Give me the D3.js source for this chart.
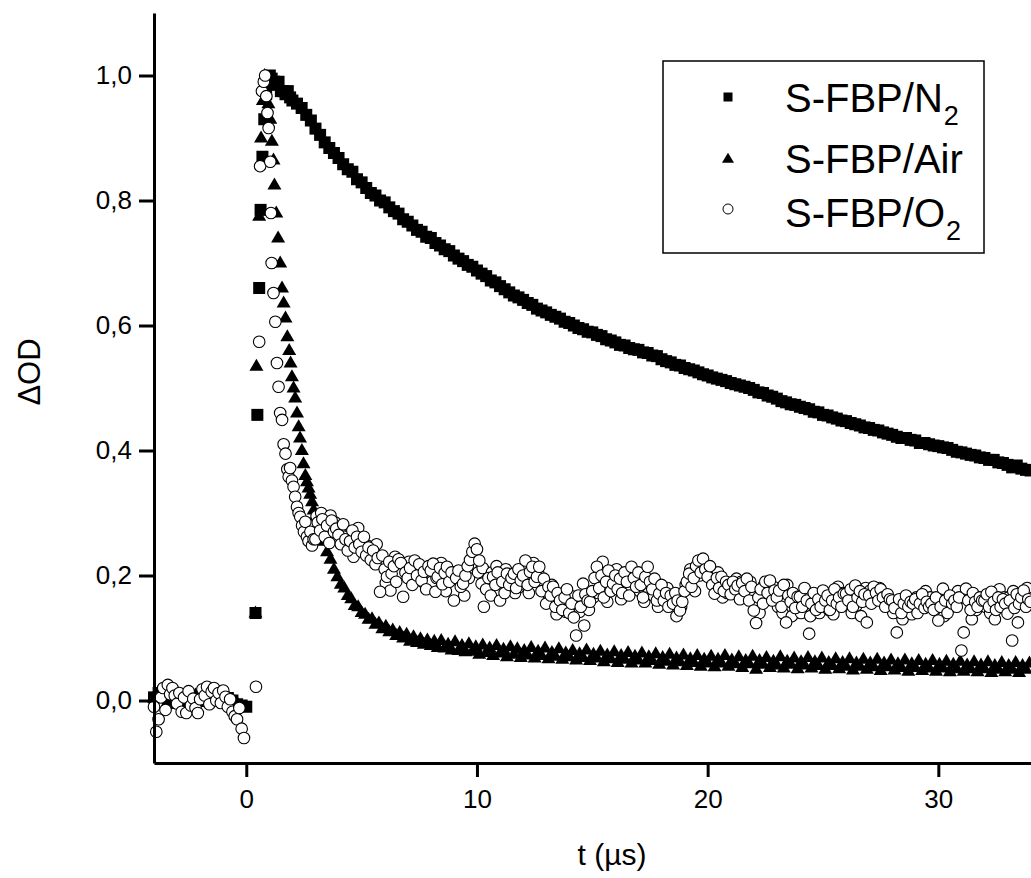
<!DOCTYPE html>
<html><head><meta charset="utf-8">
<script src="https://cdn.jsdelivr.net/npm/d3@7"></script>
<style>body{margin:0;background:#fff} svg{display:block}</style>
</head><body>
<svg id="chart" width="1031" height="878"></svg>
<script>
// ---- Data (t in µs, ΔOD) ----
const xTicks = [0, 10, 20, 30];
const yTicks = [0, 0.2, 0.4, 0.6, 0.8, 1.0];
const seriesNames = ["S-FBP/N", "S-FBP/Air", "S-FBP/O"];
const seriesSubs = ["2", "", "2"];

// S-FBP/N2
const n2PreStart = -4.0, n2PreStep = 0.2;
const n2Pre = [0.005,0.012,0.008,0.0,-0.004,0.006,0.01,0.003,-0.002,0.008,0.004,0.0,0.006,0.01,0.002,-0.003,0.004,0.0,-0.006,-0.008];
const n2Early = [[0.0,-0.01],[0.40,0.14],[0.48,0.457],[0.56,0.66],[0.62,0.785],[0.70,0.87],[0.78,0.93],[0.86,0.97],[0.94,0.99],[1.02,1.0],[1.10,0.995],[1.2,0.99],[1.3,0.985],[1.4,0.99],[1.5,0.975],[1.6,0.975],[1.7,0.97],[1.8,0.975],[1.9,0.965],[2.0,0.96]];
const n2TailStart = 2.2, n2TailStep = 0.2;
const n2Tail = [
.955,.948,.937,.928,.915,.905,.893,.884,.876,.868,.858,.850,.846,.834,.829,.820,.812,.808,.800,.797,
.789,.783,.779,.770,.766,.760,.753,.750,.742,.740,.732,.728,.722,.719,.712,.707,.703,.697,.694,.688,
.683,.679,.672,.669,.663,.658,.653,.648,.645,.641,.636,.633,.627,.624,.621,.617,.614,.611,.606,.604,
.600,.596,.594,.590,.589,.585,.583,.578,.576,.573,.569,.568,.564,.562,.561,.557,.556,.552,.551,.546,
.543,.541,.537,.536,.532,.530,.528,.525,.522,.520,.517,.515,.513,.511,.508,.506,.504,.502,.500,.497,
.493,.492,.488,.486,.483,.479,.477,.474,.473,.470,.468,.466,.462,.461,.457,.456,.453,.451,.448,.447,
.444,.442,.440,.437,.436,.433,.432,.429,.427,.425,.422,.420,.420,.417,.416,.412,.412,.410,.408,.407,
.405,.404,.401,.398,.397,.395,.393,.392,.389,.388,.385,.385,.381,.380,.377,.373,.376,.371,.369,.368];

// S-FBP/Air
const airPreStart = -4.0, airPreStep = 0.2;
const airPre = [0.004,0.01,0.006,-0.002,0.003,0.008,0.0,-0.004,0.005,0.009,0.002,-0.003,0.006,0.01,0.004,0.0,0.007,0.002,-0.004,-0.01];
const airEarly = [[0.40,0.14],[0.44,0.535],[0.56,0.775],[0.64,0.90],[0.72,0.96],[0.80,1.0],[0.88,0.985],[0.96,0.955],[1.04,0.93],[1.11,0.895],[1.18,0.865],[1.22,0.825],[1.30,0.78],[1.38,0.74],[1.47,0.70],[1.55,0.66],[1.62,0.636],[1.70,0.612],[1.78,0.582],[1.86,0.56],[1.92,0.54],[1.98,0.518],[2.05,0.50],[2.12,0.484],[2.20,0.46],[2.27,0.438],[2.33,0.42],[2.41,0.40],[2.48,0.379],[2.56,0.36],[2.63,0.35],[2.70,0.34],[2.77,0.33],[2.85,0.318],[2.92,0.305],[3.0,0.295]];
const airTailStart = 3.2, airTailStep = 0.15;
const airTail = [
.272,.255,.238,.226,.210,.198,.186,.180,.168,.163,.152,.150,.141,.138,.130,.131,.122,.124,.115,.119,
.110,.113,.104,.109,.100,.106,.095,.102,.093,.099,.090,.097,.088,.095,.085,.096,.084,.090,.081,.094,
.080,.088,.078,.091,.079,.086,.074,.089,.077,.084,.072,.088,.076,.082,.070,.086,.074,.083,.069,.080,
.073,.085,.068,.079,.072,.084,.067,.077,.071,.083,.066,.076,.070,.080,.065,.075,.069,.081,.064,.074,
.068,.079,.062,.073,.067,.078,.061,.072,.066,.077,.060,.071,.065,.076,.060,.070,.064,.075,.058,.069,
.063,.074,.057,.068,.062,.073,.056,.067,.061,.072,.055,.066,.060,.071,.054,.066,.060,.072,.055,.065,
.059,.070,.053,.064,.059,.071,.050,.064,.058,.069,.053,.063,.057,.070,.052,.063,.058,.068,.051,.062,
.057,.069,.052,.062,.056,.068,.050,.061,.056,.067,.051,.061,.055,.067,.049,.060,.055,.066,.050,.060,
.054,.066,.048,.060,.054,.065,.049,.059,.053,.065,.047,.059,.053,.064,.048,.058,.052,.064,.047,.058,
.052,.063,.046,.058,.051,.063,.047,.057,.051,.062,.046,.057,.051,.062,.045,.056,.050,.061,.046,.056,
.050,.061,.045,.056,.050,.060];

// S-FBP/O2
const o2PreStart = -4.0, o2PreStep = 0.1;
const o2Pre = [-0.01,-0.05,-0.03,0.005,0.02,-0.015,0.025,0.01,0.02,0.008,-0.005,0.012,-0.018,0.005,-0.02,0.015,-0.008,0.003,-0.012,-0.02,
0.002,0.018,0.008,0.022,-0.006,0.014,0.02,0.0,0.012,-0.004,0.016,0.006,-0.01,0.002,-0.018,-0.025,-0.03,-0.012,-0.045,-0.06];
const o2Early = [[0.42,0.022],[0.56,0.574],[0.60,0.855],[0.68,0.975],[0.76,0.99],[0.82,1.0],[0.87,0.967],[0.92,0.94],[0.97,0.916],[1.04,0.862],[1.07,0.78],[1.10,0.70],[1.18,0.652],[1.26,0.606],[1.33,0.54],[1.40,0.502],[1.47,0.46],[1.55,0.449],[1.62,0.41],[1.70,0.395],[1.78,0.37],[1.84,0.358],[1.90,0.372],[1.98,0.352],[2.05,0.342],[2.12,0.326],[2.20,0.31],[2.27,0.30],[2.34,0.294],[2.42,0.28],[2.50,0.27],[2.56,0.286],[2.63,0.262],[2.70,0.255],[2.78,0.27],[2.85,0.248],[2.92,0.258]];
const o2TailStart = 3.0, o2TailStep = 0.1;
const o2Tail = [
.258,.285,.272,.290,.262,.280,.252,.288,.270,.275,
.265,.250,.282,.258,.240,.255,.272,.245,.262,.250,
.238,.262,.232,.245,.225,.240,.218,.228,.174,.232,
.210,.198,.222,.203,.215,.190,.226,.220,.166,.205,
.196,.212,.185,.224,.200,.218,.192,.206,.178,.215,
.208,.219,.174,.198,.212,.186,.204,.214,.190,.205,
.160,.196,.208,.182,.187,.200,.215,.225,.238,.251,
.242,.224,.187,.150,.178,.196,.168,.198,.185,.205,
.160,.190,.172,.203,.185,.196,.203,.180,.210,.192,
.200,.224,.185,.206,.214,.190,.198,.214,.175,.195,
.155,.182,.168,.182,.150,.172,.160,.145,.165,.178,
.140,.155,.133,.104,.168,.150,.187,.170,.160,.158,
.175,.196,.214,.180,.200,.165,.190,.208,.175,.187,
.200,.178,.195,.172,.205,.190,.168,.214,.196,.182,
.205,.185,.165,.198,.214,.190,.178,.195,.160,.171,
.185,.160,.172,.150,.168,.155,.172,.160,.144,.158,
.175,.190,.203,.182,.196,.215,.224,.205,.227,.210,
.198,.215,.185,.171,.196,.180,.198,.175,.190,.185,
.170,.190,.178,.184,.162,.188,.175,.195,.160,.182,
.144,.124,.165,.178,.155,.190,.172,.192,.160,.176,
.165,.176,.150,.185,.125,.168,.158,.172,.148,.166,
.166,.150,.180,.160,.107,.155,.172,.145,.162,.150,
.176,.160,.168,.145,.160,.178,.155,.165,.150,.171,
.171,.160,.178,.150,.184,.165,.175,.158,.170,.125,
.168,.155,.182,.172,.160,.178,.165,.150,.170,.162,
.160,.148,.109,.162,.140,.155,.168,.150,.158,.155,
.162,.140,.155,.170,.148,.158,.150,.155,.145,.165,
.128,.150,.179,.160,.140,.168,.155,.160,.150,.165,
.080,.109,.179,.160,.145,.172,.158,.150,.165,.160,
.160,.170,.150,.174,.158,.145,.165,.150,.162,.155,
.139,.160,.096,.148,.170,.155,.165,.176,.150,.162,
.158];
// interleaved O2 samples between the ones above
const o2TailBStart = 3.05, o2TailBStep = 0.2;
const o2TailB = [
.295,.300,.278,.296,.285, .275,.262,.248,.230,.276, .252,.248,.236,.250,.226,
.188,.176,.230,.204,.218, .222,.208,.214,.190,.210, .190,.196,.220,.175,.198,
.205,.190,.168,.196,.228, .205,.212,.190,.205,.215, .198,.210,.192,.172,.182,
.186,.172,.220,.205,.190, .172,.185,.138,.150,.142, .168,.150,.142,.120,.145,
.165,.172,.222,.158,.185, .210,.162,.176,.184,.205, .175,.158,.172,.168,.150,
.172,.180,.165,.135,.150, .185,.210,.175,.200,.215, .205,.190,.205,.165,.172,
.185,.195,.190,.182,.190, .160,.140,.185,.165,.182, .150,.140,.185,.135,.160,
.140,.155,.135,.150,.140, .155,.145,.138,.182,.172, .160,.140,.152,.135,.180,
.176,.165,.180,.170,.160, .140,.150,.130,.145,.138, .165,.160,.175,.165,.160,
.150,.135,.150,.160,.175, .165,.175,.130,.145,.155, .150,.140,.130,.178,.165,
.165,.175,.125,.170,.180];

(function () {
// ---- Build point lists ----
const grid = (start, step, vals) => vals.map((v, i) => [start + i * step, v]);
const n2 = [...grid(n2PreStart, n2PreStep, n2Pre), ...n2Early, ...grid(n2TailStart, n2TailStep, n2Tail)];
const air = [...grid(airPreStart, airPreStep, airPre), ...airEarly, ...grid(airTailStart, airTailStep, airTail)];
const o2 = [...grid(o2TailBStart, o2TailBStep, o2TailB), ...grid(o2PreStart, o2PreStep, o2Pre), ...o2Early, ...grid(o2TailStart, o2TailStep, o2Tail)];

// ---- Chart ----
const FONT = "'Liberation Sans', Arial, Helvetica, sans-serif";
const svg = d3.select("#chart");
const mLeft = 154, mRight = 1030.6, mTop = 13, mBottom = 763;

const x = d3.scaleLinear().domain([-4, 34]).range([mLeft, mRight]);
const y = d3.scaleLinear().domain([-0.1, 1.1]).range([mBottom, mTop]);

const triPath = (w, h) => `M0,${-h*0.62}L${w/2},${h*0.38}L${-w/2},${h*0.38}Z`;

const plot = svg.append("g");

// N2 squares
const sq = 12;
plot.append("g").selectAll("rect").data(n2).join("rect")
  .attr("x", d => x(d[0]) - sq/2).attr("y", d => y(d[1]) - sq/2)
  .attr("width", sq).attr("height", sq).attr("fill", "#000");

// Air triangles
plot.append("g").selectAll("path").data(air).join("path")
  .attr("d", triPath(14, 12))
  .attr("transform", d => `translate(${x(d[0])},${y(d[1])})`)
  .attr("fill", "#000");

// O2 circles
plot.append("g").selectAll("circle").data(o2).join("circle")
  .attr("cx", d => x(d[0])).attr("cy", d => y(d[1])).attr("r", 5.8)
  .attr("fill", "#fff").attr("stroke", "#000").attr("stroke-width", 1.1);

// Axes
const yAxis = d3.axisLeft(y).tickValues(yTicks)
  .tickFormat(d => d3.format(".1f")(d).replace(".", ","))
  .tickSize(15).tickSizeOuter(0).tickPadding(7);
const xAxis = d3.axisBottom(x).tickValues(xTicks)
  .tickFormat(d3.format("d")).tickSize(14).tickSizeOuter(0).tickPadding(13);

const gy = svg.append("g").attr("transform", `translate(${mLeft},0)`).call(yAxis);
const gx = svg.append("g").attr("transform", `translate(0,${mBottom})`).call(xAxis);
[gx, gy].forEach(g => {
  g.select(".domain").attr("stroke", "#000").attr("stroke-width", 3);
  g.selectAll(".tick line").attr("stroke", "#000").attr("stroke-width", 3);
  g.selectAll(".tick text").attr("fill", "#000").style("font-family", FONT).style("font-size", "26px");
});

// Axis titles
svg.append("text").attr("x", 612).attr("y", 865).attr("text-anchor", "middle")
  .style("font-family", FONT).style("font-size", "30px").attr("fill", "#000").text("t (µs)");
svg.append("text").attr("transform", "translate(40,372) rotate(-90)").attr("text-anchor", "middle")
  .style("font-family", FONT).style("font-size", "31px").attr("fill", "#000").text("ΔOD");

// Legend
const lg = svg.append("g");
lg.append("rect").attr("x", 663).attr("y", 61).attr("width", 321).attr("height", 192)
  .attr("fill", "#fff").attr("stroke", "#000").attr("stroke-width", 1.5);
const rowsY = [111.7, 172.7, 226.7];
const markY = [97, 159, 209];
const markX = 728;
lg.append("rect").attr("x", markX - 4.5).attr("y", markY[0] - 4.5).attr("width", 9).attr("height", 9).attr("fill", "#000");
lg.append("path").attr("d", triPath(12, 10)).attr("transform", `translate(${markX},${markY[1]})`).attr("fill", "#000");
lg.append("circle").attr("cx", markX).attr("cy", markY[2]).attr("r", 5).attr("fill", "#fff").attr("stroke", "#000").attr("stroke-width", 1);
seriesNames.forEach((name, i) => {
  const t = lg.append("text").attr("x", 785).attr("y", rowsY[i])
    .style("font-family", FONT).style("font-size", "40px").attr("fill", "#000").text(name);
  if (seriesSubs[i]) {
    t.append("tspan").attr("dy", 13).attr("dx", 1).style("font-size", "27px").text(seriesSubs[i]);
  }
});
})();
</script>
</body></html>
